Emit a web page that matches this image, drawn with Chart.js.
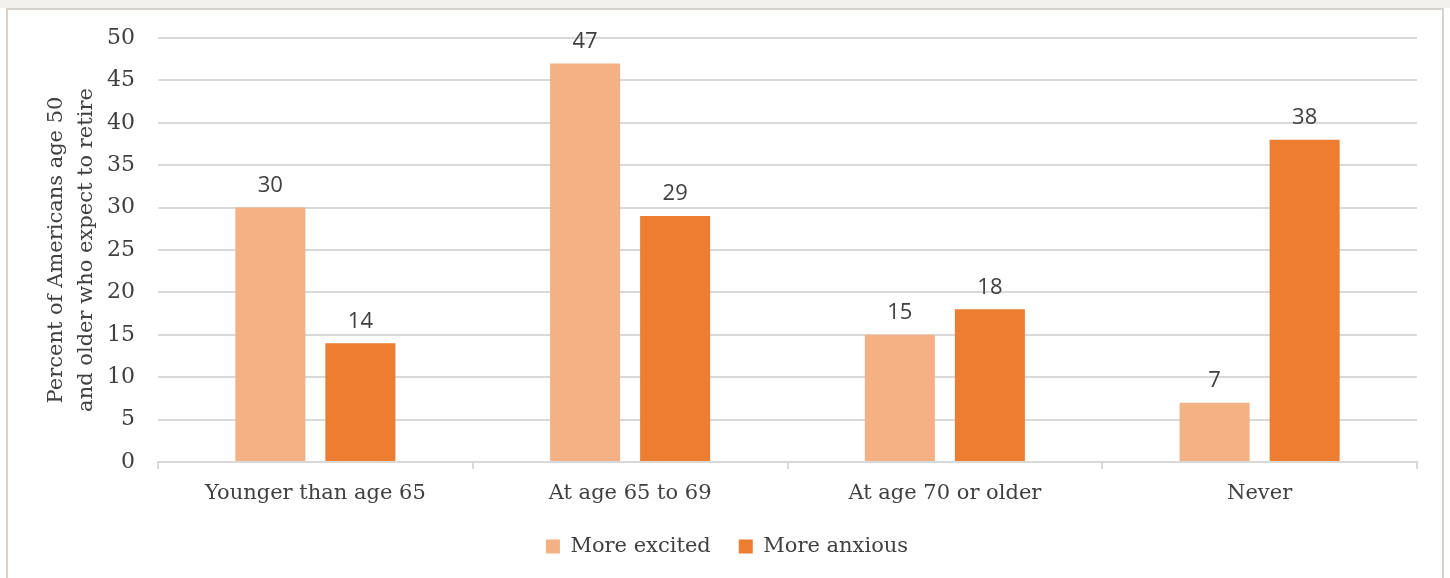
<!DOCTYPE html>
<html>
<head>
<meta charset="utf-8">
<script src="https://cdn.jsdelivr.net/npm/chart.js@4.4.1/dist/chart.umd.min.js"></script>
<style>
  html, body { margin: 0; padding: 0; background: #fff; }
  .band { position: absolute; left: 0; top: 0; width: 1450px; height: 8px; background: #f3f1ed; }
  .frame { position: absolute; left: 6px; top: 8px; width: 1438px; height: 574px;
           border: 2px solid #d6d2cd; box-sizing: border-box; background: #fff; }
  .wrap { position: absolute; left: 8px; top: 10px; width: 1434px; height: 568px; }
</style>
</head>
<body>
<div class="band"></div>
<div class="frame"></div>
<div class="wrap"><canvas id="myChart"></canvas></div>
<script>
const categories = ["Younger than age 65", "At age 65 to 69", "At age 70 or older", "Never"];
const moreExcited = [30, 47, 15, 7];
const moreAnxious = [14, 29, 18, 38];
const yTicks = [0, 5, 10, 15, 20, 25, 30, 35, 40, 45, 50];

const textColor = '#404040';
const gridColor = '#d9d9d9';
const serif = '"DejaVu Serif"';

// value labels above every bar
const barLabels = {
    id: 'barLabels',
    afterDatasetsDraw(chart) {
        const ctx = chart.ctx;
        ctx.save();
        ctx.font = '22px "Open Sans"';
        ctx.fillStyle = textColor;
        ctx.textAlign = 'center';
        ctx.textBaseline = 'bottom';
        chart.data.datasets.forEach((ds, i) => {
            chart.getDatasetMeta(i).data.forEach((bar, j) => {
                ctx.fillText(ds.data[j], bar.x, bar.y - 11);
            });
        });
        ctx.restore();
    }
};

let myChart = document.getElementById("myChart").getContext("2d");

let retireChart = new Chart(myChart, {
    type: 'bar',
    data: {
        labels: categories,
        datasets: [{
            label: 'More excited',
            data: moreExcited,
            backgroundColor: '#f4b183'
        }, {
            label: 'More anxious',
            data: moreAnxious,
            backgroundColor: '#ed7d31'
        }]
    },
    options: {
        responsive: true,
        maintainAspectRatio: false,
        animation: false,
        layout: { padding: { top: 28, right: 25, left: 29, bottom: 11 } },
        datasets: {
            bar: { categoryPercentage: 0.572, barPercentage: 0.778 }
        },
        plugins: {
            tooltip: { enabled: false },
            legend: {
                position: 'bottom',
                labels: {
                    color: textColor,
                    font: { family: serif, size: 21 },
                    boxWidth: 14,
                    boxHeight: 14,
                    padding: 28
                }
            }
        },
        scales: {
            x: {
                grid: {
                    drawOnChartArea: false,
                    drawTicks: true,
                    tickLength: 7,
                    color: gridColor,
                    lineWidth: 2
                },
                border: { color: gridColor, width: 2 },
                ticks: {
                    color: textColor,
                    font: { family: serif, size: 21 },
                    padding: 12
                },
                afterFit(scale) { scale.height = 46; }
            },
            y: {
                min: 0,
                max: 50,
                afterBuildTicks(scale) { scale.ticks = yTicks.map(v => ({ value: v })); },
                grid: { color: gridColor, lineWidth: 2, drawTicks: false },
                border: { display: false },
                ticks: {
                    color: textColor,
                    font: { family: serif, size: 22 },
                    padding: 23
                },
                title: {
                    display: true,
                    text: ['Percent of Americans age 50', 'and older who expect to retire'],
                    color: textColor,
                    font: { family: serif, size: 21, lineHeight: 1.45 }
                },
                afterFit(scale) {
                    scale.width = 121;
                    // tick padding should not push the plot area down
                    scale.paddingTop = 0;
                    scale.paddingBottom = 0;
                }
            }
        }
    },
    plugins: [barLabels]
});
</script>
</body>
</html>
